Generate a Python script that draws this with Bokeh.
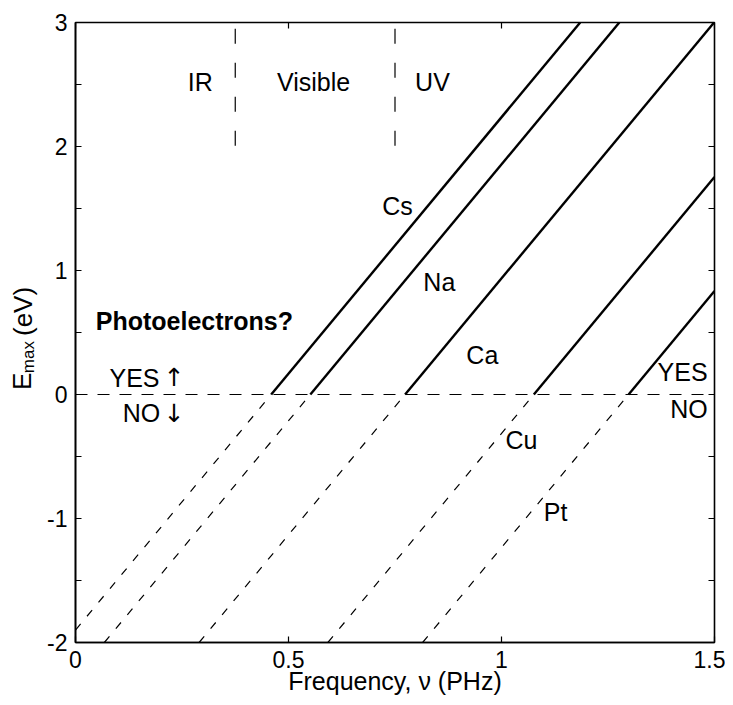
import numpy as np
from bokeh.plotting import figure
from bokeh.layouts import row
from bokeh.models import Range1d, FixedTicker, Label
from bokeh.embed import file_html
from bokeh.resources import INLINE

# ---- data ----
metals = ["Cs", "Na", "Ca", "Cu", "Pt"]
work_function = [1.90, 2.28, 3.20, 4.45, 5.37]   # eV
h_planck = 4.136                                  # eV per PHz
metal_label_x = [0.756, 0.854, 0.955, 1.047, 1.127]
metal_label_y = [1.52, 0.91, 0.315, -0.37, -0.95]

x_ticks = [0, 0.5, 1, 1.5]
x_tick_labels = ["0", "0.5", "1", "1.5"]
y_ticks = [-2, -1, 0, 1, 2, 3]
y_tick_labels = ["-2", "-1", "0", "1", "2", "3"]
y_minor = [-1.5, -0.5, 0.5, 1.5, 2.5]

band_edges = [0.375, 0.75]          # PHz (800 nm, 400 nm)
band_edge_y = [2.0, 2.95]
band_names = ["IR", "Visible", "UV"]
band_label_x = [0.293, 0.559, 0.838]
band_label_y = 2.52

XMIN, XMAX, YMIN, YMAX = 0.0, 1.5, -2.0, 3.0
FONT = "Liberation Sans"
FW, FH = 639, 620
LEFT_W = 40
TOP, BOTTOM, RIGHT, LEFT = 22, 60, 11, 35
H = TOP + FH + BOTTOM

p = figure(frame_width=FW, frame_height=FH, width=LEFT + FW + RIGHT, height=H,
           x_range=Range1d(XMIN, XMAX), y_range=Range1d(YMIN, YMAX),
           output_backend="svg", toolbar_location=None,
           min_border_left=LEFT, min_border_right=RIGHT, min_border_top=TOP, min_border_bottom=BOTTOM)
p.grid.visible = False
p.outline_line_color = "black"
p.outline_line_width = 1.6
p.background_fill_color = "white"
p.border_fill_color = "white"

# ---- element lines  E = h*nu - phi ----
xs0, ys0, xs1, ys1, xe0, ye0, xe1, ye1 = [], [], [], [], [], [], [], []
for phi in work_function:
    xa = max(XMIN, (phi + YMIN) / h_planck)
    xc = phi / h_planck
    xb = min(XMAX, (phi + YMAX) / h_planck)
    xs0.append(xa); ys0.append(h_planck * xa - phi)
    xs1.append(xc); ys1.append(0.0)
    xe0.append(xc); ye0.append(0.0)
    xe1.append(xb); ye1.append(h_planck * xb - phi)

p.segment(x0=xs0, y0=ys0, x1=xs1, y1=ys1, line_color="black", line_width=1.2, line_dash="8 10")
p.segment(x0=xe0, y0=ye0, x1=xe1, y1=ye1, line_color="black", line_width=2.4)

# zero line
p.segment(x0=[XMIN], y0=[0], x1=[XMAX], y1=[0], line_color="black", line_width=1.2, line_dash="12 10")

# band edges
p.segment(x0=band_edges, y0=[band_edge_y[1]] * 2, x1=band_edges, y1=[band_edge_y[0]] * 2,
          line_color="black", line_width=1.2, line_dash="15 19")

# inward ticks on the right and top edges (box on)
tick_dx = 6 * (XMAX - XMIN) / FW
tick_dy = 6 * (YMAX - YMIN) / FH
ry = y_ticks + y_minor
p.segment(x0=[XMAX - tick_dx] * len(ry), y0=ry, x1=[XMAX] * len(ry), y1=ry, line_color="black", line_width=1.2)
p.segment(x0=x_ticks, y0=[YMAX - tick_dy] * len(x_ticks), x1=x_ticks, y1=[YMAX] * len(x_ticks),
          line_color="black", line_width=1.2)

def add_label(x, y, text, size="25px", style="normal", font=FONT):
    p.add_layout(Label(x=x, y=y, text=text, text_font=font, text_font_size=size,
                       text_font_style=style, text_align="center", text_baseline="middle",
                       text_color="black"))

for name, lx in zip(band_names, band_label_x):
    add_label(lx, band_label_y, name)
for name, lx, ly in zip(metals, metal_label_x, metal_label_y):
    add_label(lx, ly, name)

add_label(0.279, 0.59, "Photoelectrons?", style="bold")
add_label(0.1385, 0.137, "YES")
add_label(0.232, 0.137, "\u2191", size="25px", font="DejaVu Sans")
add_label(0.155, -0.153, "NO")
add_label(0.232, -0.153, "\u2193", size="25px", font="DejaVu Sans")
add_label(1.425, 0.185, "YES")
add_label(1.440, -0.113, "NO")

# ---- axes ----
p.xaxis.ticker = FixedTicker(ticks=x_ticks, minor_ticks=[])
p.yaxis.ticker = FixedTicker(ticks=y_ticks, minor_ticks=y_minor)
p.xaxis.major_label_overrides = {t: s for t, s in zip(x_ticks, x_tick_labels)}
p.yaxis.major_label_overrides = {t: s for t, s in zip(y_ticks, y_tick_labels)}
p.xaxis.axis_label = "Frequency, \u03bd (PHz)"

for ax in (p.xaxis[0], p.yaxis[0]):
    ax.axis_line_width = 1.6
    ax.major_tick_in = 6
    ax.major_tick_out = 0
    ax.minor_tick_in = 6
    ax.minor_tick_out = 0
    ax.major_tick_line_width = 1.2
    ax.minor_tick_line_width = 1.2
    ax.major_label_text_font = FONT
    ax.major_label_text_font_size = "23px"
    ax.major_label_text_color = "black"
    ax.major_label_standoff = 8
    ax.axis_label_text_font = FONT
    ax.axis_label_text_font_size = "25px"
    ax.axis_label_text_font_style = "normal"
    ax.axis_label_text_color = "black"
p.xaxis.axis_label_standoff = -4

# ---- y-axis title in its own narrow panel: E_max (eV) ----
q = figure(width=LEFT_W, height=H, x_range=Range1d(0, LEFT_W), y_range=Range1d(0, H),
           output_backend="svg", toolbar_location=None,
           x_axis_location=None, y_axis_location=None,
           min_border_left=0, min_border_right=0, min_border_top=0, min_border_bottom=0)
q.grid.visible = False
q.outline_line_color = None
q.background_fill_color = "white"
q.border_fill_color = "white"

ylab_text = ["E", "max", "(eV)"]
ylab_size = ["26px", "17px", "26px"]
ylab_x = [21, 28, 22]          # screen px from left
ylab_y = [416, 397, 355]       # anchor of each piece (start of text)
for t, s, xx, yy in zip(ylab_text, ylab_size, ylab_x, ylab_y):
    q.add_layout(Label(x=xx, y=H - yy, text=t, text_font=FONT, text_font_size=s,
                       text_align="left", text_baseline="middle", angle=np.pi / 2,
                       text_color="black"))

layout = row(q, p)
open("out.html", "w").write(file_html(layout, INLINE))
